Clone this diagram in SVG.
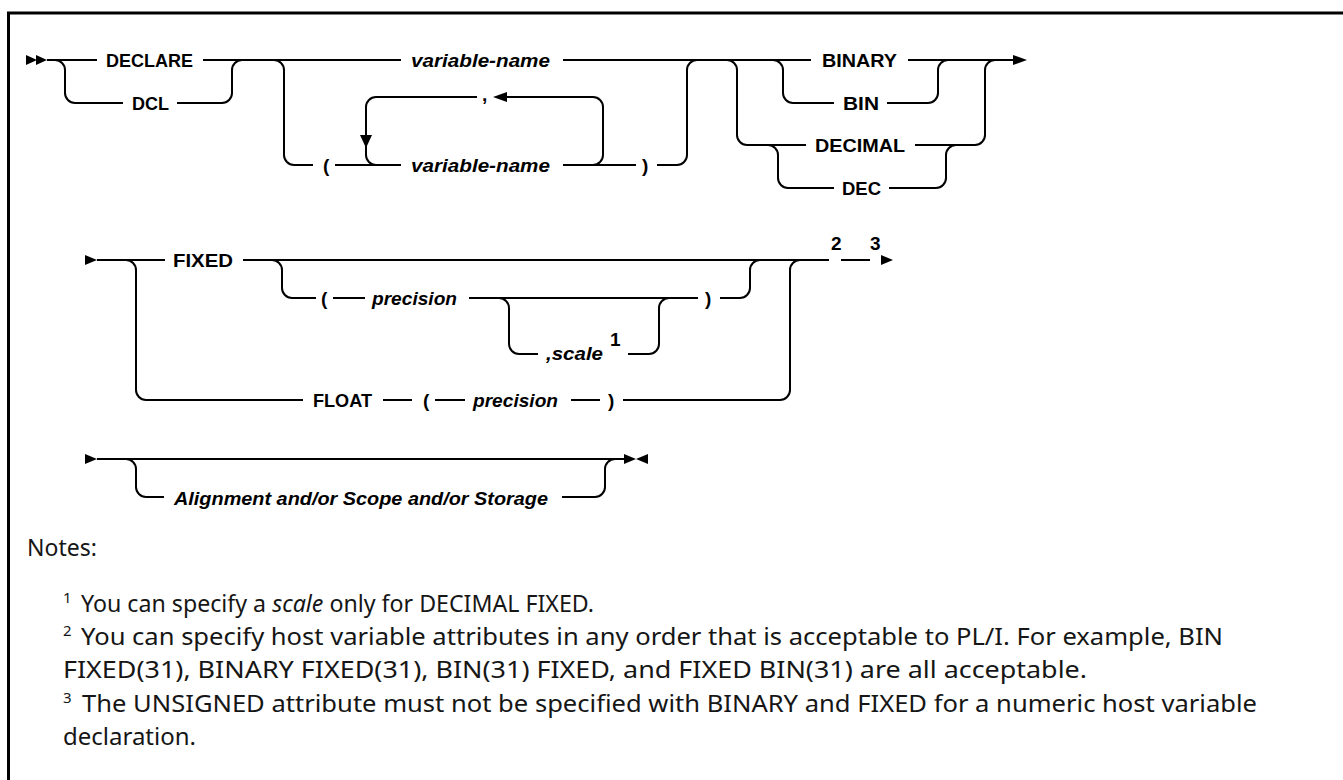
<svg xmlns="http://www.w3.org/2000/svg" width="1343" height="780" viewBox="0 0 1343 780">
<style>
.ln{fill:none;stroke:#000;stroke-width:2}
.ah{fill:#000;stroke:none}
.kw{font-family:"Liberation Sans",Arial,sans-serif;font-weight:bold;font-size:19px;fill:#000}
.var{font-family:"Liberation Sans",Arial,sans-serif;font-weight:bold;font-style:italic;font-size:19px;fill:#000}
.note{font-family:"Noto Sans","Liberation Sans",sans-serif;font-size:23px;fill:#161616}
.sup{font-family:"Noto Sans","Liberation Sans",sans-serif;font-size:15px;fill:#161616}
</style>
<rect width="1343" height="780" fill="#fff"/>
<path d="M8.5,780 V13 H1343" fill="none" stroke="#000" stroke-width="3"/>

<g id="connectors">
  <!-- row 1 -->
  <path class="ah" d="M26,55 L37,60 L26,65 Z M36,55 L47,60 L36,65 Z"/>
  <path class="ln" d="M47,60 H97 M203,60 H401 M563,60 H811 M908,60 H1014"/>
  <path class="ln" d="M55,60 A10,10 0 0 1 65,70 V93 A10,10 0 0 0 75,103 H123"/>
  <path class="ln" d="M177,103 H222 A10,10 0 0 0 232,93 V70 A10,10 0 0 1 242,60"/>
  <path class="ln" d="M274,60 A10,10 0 0 1 284,70 V155 A10,10 0 0 0 294,165 H313"/>
  <path class="ln" d="M335,165 H401 M563,165 H636"/>
  <path class="ln" d="M593,165 A10,10 0 0 0 603,155 V107 A10,10 0 0 0 593,97 H507"/>
  <path class="ln" d="M477,97 H376 A10,10 0 0 0 366,107 V155 A10,10 0 0 0 376,165"/>
  <path class="ah" d="M360,135 L372,135 L366,148 Z"/>
  <path class="ah" d="M507,92 L507,102 L493,97 Z"/>
  <path class="ln" d="M657,165 H677 A10,10 0 0 0 687,155 V70 A10,10 0 0 1 697,60"/>
  <path class="ln" d="M727,60 A10,10 0 0 1 737,70 V135 A10,10 0 0 0 747,145 H806"/>
  <path class="ln" d="M773,60 A10,10 0 0 1 783,70 V93 A10,10 0 0 0 793,103 H834"/>
  <path class="ln" d="M768,145 A10,10 0 0 1 778,155 V178 A10,10 0 0 0 788,188 H834"/>
  <path class="ln" d="M887,103 H928 A10,10 0 0 0 938,93 V70 A10,10 0 0 1 948,60"/>
  <path class="ln" d="M915,145 H975 A10,10 0 0 0 985,135 V70 A10,10 0 0 1 995,60"/>
  <path class="ln" d="M889,188 H936 A10,10 0 0 0 946,178 V155 A10,10 0 0 1 956,145"/>
  <path class="ah" d="M1013,55 L1027,60 L1013,65 Z"/>
  <!-- row 2 -->
  <path class="ah" d="M85,255 L97,260 L85,265 Z"/>
  <path class="ln" d="M97,260 H165 M243,260 H829 M841,260 H870 M881,260 H882"/>
  <path class="ah" d="M881,255 L893,260 L881,265 Z"/>
  <path class="ln" d="M126,260 A10,10 0 0 1 136,270 V390 A10,10 0 0 0 146,400 H303"/>
  <path class="ln" d="M272,260 A10,10 0 0 1 282,270 V288 A10,10 0 0 0 292,298 H316"/>
  <path class="ln" d="M333,298 H365 M469,298 H698"/>
  <path class="ln" d="M499,298 A10,10 0 0 1 509,308 V344 A10,10 0 0 0 519,354 H538"/>
  <path class="ln" d="M628,354 H649 A10,10 0 0 0 659,344 V308 A10,10 0 0 1 669,298"/>
  <path class="ln" d="M720,298 H740 A10,10 0 0 0 750,288 V270 A10,10 0 0 1 760,260"/>
  <path class="ln" d="M383,400 H412 M435,400 H465 M571,400 H600"/>
  <path class="ln" d="M623,400 H780 A10,10 0 0 0 790,390 V270 A10,10 0 0 1 800,260"/>
  <!-- row 3 -->
  <path class="ah" d="M85,454 L97,459 L85,464 Z"/>
  <path class="ln" d="M97,459 H624"/>
  <path class="ln" d="M126,459 A10,10 0 0 1 136,469 V487 A10,10 0 0 0 146,497 H164"/>
  <path class="ln" d="M562,497 H595 A10,10 0 0 0 605,487 V469 A10,10 0 0 1 615,459"/>
  <path class="ah" d="M624,454 L636,459 L624,464 Z M648,454 L636,459 L648,464 Z"/>
</g>

<g id="n-declare"><text class="kw" x="106" y="67" textLength="87" lengthAdjust="spacingAndGlyphs">DECLARE</text></g>
<g id="n-dcl"><text class="kw" x="132" y="110" textLength="37" lengthAdjust="spacingAndGlyphs">DCL</text></g>
<g id="n-varname1"><text class="var" x="411" y="67" textLength="139" lengthAdjust="spacingAndGlyphs">variable-name</text></g>
<g id="n-lparen1"><text class="kw" x="323" y="172">(</text></g>
<g id="n-varname2"><text class="var" x="411" y="172" textLength="139" lengthAdjust="spacingAndGlyphs">variable-name</text></g>
<g id="n-rparen1"><text class="kw" x="642" y="172">)</text></g>
<g id="n-comma"><text class="kw" x="482" y="101">,</text></g>
<g id="n-binary"><text class="kw" x="822" y="67" textLength="75" lengthAdjust="spacingAndGlyphs">BINARY</text></g>
<g id="n-bin"><text class="kw" x="843" y="110" textLength="36" lengthAdjust="spacingAndGlyphs">BIN</text></g>
<g id="n-decimal"><text class="kw" x="815" y="152" textLength="90" lengthAdjust="spacingAndGlyphs">DECIMAL</text></g>
<g id="n-dec"><text class="kw" x="842" y="195" textLength="39" lengthAdjust="spacingAndGlyphs">DEC</text></g>

<g id="n-fixed"><text class="kw" x="173" y="267" textLength="60" lengthAdjust="spacingAndGlyphs">FIXED</text></g>
<g id="n-lparen2"><text class="kw" x="321" y="305">(</text></g>
<g id="n-precision1"><text class="var" x="372" y="305" textLength="85" lengthAdjust="spacingAndGlyphs">precision</text></g>
<g id="n-scale"><text class="var" x="546" y="360" textLength="57" lengthAdjust="spacingAndGlyphs">,scale</text><text class="kw" x="610" y="346">1</text></g>
<g id="n-rparen2"><text class="kw" x="705" y="305">)</text></g>
<g id="n-float"><text class="kw" x="313" y="407" textLength="59" lengthAdjust="spacingAndGlyphs">FLOAT</text></g>
<g id="n-lparen3"><text class="kw" x="423" y="407">(</text></g>
<g id="n-precision2"><text class="var" x="473" y="407" textLength="85" lengthAdjust="spacingAndGlyphs">precision</text></g>
<g id="n-rparen3"><text class="kw" x="608" y="407">)</text></g>
<g id="n-notes23"><text class="kw" x="831" y="250">2</text><text class="kw" x="870" y="250">3</text></g>

<g id="n-alignment"><text class="var" x="174" y="505" textLength="374" lengthAdjust="spacingAndGlyphs">Alignment and/or Scope and/or Storage</text></g>

<g id="notes">
  <text class="note" x="27" y="556">Notes:</text>
  <text class="sup" x="63" y="603">1</text>
  <text class="note" x="81" y="612" textLength="513" lengthAdjust="spacingAndGlyphs">You can specify a <tspan font-style="italic">scale</tspan> only for DECIMAL FIXED.</text>
  <text class="sup" x="63" y="636">2</text>
  <text class="note" x="81" y="645" textLength="1142" lengthAdjust="spacingAndGlyphs">You can specify host variable attributes in any order that is acceptable to PL/I. For example, BIN</text>
  <text class="note" x="63" y="678" textLength="1024" lengthAdjust="spacingAndGlyphs">FIXED(31), BINARY FIXED(31), BIN(31) FIXED, and FIXED BIN(31) are all acceptable.</text>
  <text class="sup" x="63" y="703">3</text>
  <text class="note" x="82" y="712" textLength="1175" lengthAdjust="spacingAndGlyphs">The UNSIGNED attribute must not be specified with BINARY and FIXED for a numeric host variable</text>
  <text class="note" x="63" y="745" textLength="133" lengthAdjust="spacingAndGlyphs">declaration.</text>
</g>
</svg>
